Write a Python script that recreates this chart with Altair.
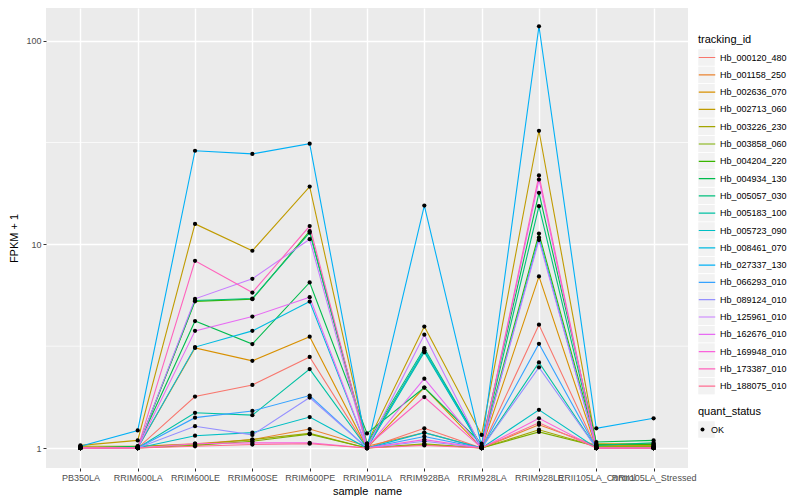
import altair as alt
import pandas as pd

samples = ["PB350LA", "RRIM600LA", "RRIM600LE", "RRIM600SE", "RRIM600PE", "RRIM901LA",
           "RRIM928BA", "RRIM928LA", "RRIM928LE", "RRII105LA_Control", "RRII105LA_Stressed"]

genes = ["Hb_000120_480", "Hb_001158_250", "Hb_002636_070", "Hb_002713_060", "Hb_003226_230",
         "Hb_003858_060", "Hb_004204_220", "Hb_004934_130", "Hb_005057_030", "Hb_005183_100",
         "Hb_005723_090", "Hb_008461_070", "Hb_027337_130", "Hb_066293_010", "Hb_089124_010",
         "Hb_125961_010", "Hb_162676_010", "Hb_169948_010", "Hb_173387_010", "Hb_188075_010"]

palette = ["#F8766D", "#EA8331", "#D89000", "#C09B00", "#A3A500", "#7CAE00", "#39B600",
           "#00BB4E", "#00BF7D", "#00C1A3", "#00BFC4", "#00BAE0", "#00B0F6", "#35A2FF",
           "#9590FF", "#C77CFF", "#E76BF3", "#FA62DB", "#FF62BC", "#FF6C91"]

# FPKM + 1 per sample (order of `samples`)
hb_000120_480 = [1.01, 1.00, 1.79, 2.04, 2.80, 1.00, 1.25, 1.00, 4.03, 1.00, 1.00]
hb_001158_250 = [1.00, 1.02, 1.05, 1.10, 1.24, 1.02, 1.19, 1.00, 1.30, 1.03, 1.03]
hb_002636_070 = [1.00, 1.00, 3.10, 2.68, 3.52, 1.00, 1.98, 1.00, 6.96, 1.00, 1.00]
hb_002713_060 = [1.03, 1.09, 12.6, 9.30, 19.2, 1.05, 3.95, 1.16, 36.1, 1.05, 1.05]
hb_003226_230 = [1.02, 1.02, 1.04, 1.10, 1.18, 1.00, 1.05, 1.00, 1.23, 1.02, 1.02]
hb_003858_060 = [1.00, 1.00, 1.03, 1.08, 1.17, 1.00, 1.04, 1.00, 1.20, 1.02, 1.02]
hb_004204_220 = [1.00, 1.00, 5.25, 5.38, 11.6, 1.02, 3.00, 1.02, 11.3, 1.04, 1.04]
hb_004934_130 = [1.00, 1.02, 4.20, 3.24, 6.50, 1.18, 1.98, 1.05, 17.9, 1.07, 1.09]
hb_005057_030 = [1.00, 1.00, 5.30, 5.42, 11.4, 1.05, 3.09, 1.02, 15.4, 1.03, 1.06]
hb_005183_100 = [1.00, 1.00, 1.49, 1.45, 2.44, 1.00, 2.95, 1.00, 2.63, 1.00, 1.00]
hb_005723_090 = [1.00, 1.00, 1.15, 1.19, 1.42, 1.00, 1.19, 1.00, 1.54, 1.00, 1.00]
hb_008461_070 = [1.00, 1.00, 3.13, 3.76, 5.24, 1.00, 3.02, 1.00, 10.8, 1.00, 1.00]
hb_027337_130 = [1.02, 1.22, 28.8, 27.8, 31.2, 1.00, 15.5, 1.02, 117.6, 1.25, 1.40]
hb_066293_010 = [1.00, 1.00, 1.41, 1.52, 1.81, 1.00, 1.14, 1.00, 3.25, 1.00, 1.00]
hb_089124_010 = [1.00, 1.00, 1.28, 1.16, 1.77, 1.00, 1.08, 1.00, 2.49, 1.00, 1.00]
hb_125961_010 = [1.00, 1.00, 5.40, 6.77, 10.6, 1.00, 3.60, 1.00, 10.5, 1.00, 1.00]
hb_162676_010 = [1.00, 1.00, 3.76, 4.42, 5.50, 1.00, 2.19, 1.00, 20.8, 1.00, 1.00]
hb_169948_010 = [1.00, 1.00, 1.05, 1.06, 1.06, 1.00, 1.10, 1.00, 1.40, 1.00, 1.00]
hb_173387_010 = [1.00, 1.00, 8.30, 5.80, 12.3, 1.02, 1.78, 1.00, 21.8, 1.00, 1.00]
hb_188075_010 = [1.00, 1.00, 1.02, 1.04, 1.05, 1.00, 1.03, 1.00, 1.33, 1.00, 1.00]

series = [hb_000120_480, hb_001158_250, hb_002636_070, hb_002713_060, hb_003226_230,
          hb_003858_060, hb_004204_220, hb_004934_130, hb_005057_030, hb_005183_100,
          hb_005723_090, hb_008461_070, hb_027337_130, hb_066293_010, hb_089124_010,
          hb_125961_010, hb_162676_010, hb_169948_010, hb_173387_010, hb_188075_010]

minor_breaks = [10 ** 0.5, 10 ** 1.5]
y_breaks = [1, 10, 100]

rows = []
for g, vals in zip(genes, series):
    for i, (s, v) in enumerate(zip(samples, vals)):
        rows.append({"tracking_id": g, "key_id": g, "sample_name": s, "idx": i,
                     "fpkm1": v, "quant_status": "OK", "quant_key": "OK"})
df = pd.DataFrame(rows)
minor_df = pd.DataFrame({"fpkm1": minor_breaks})

FONT = "Liberation Sans"
KEY_BG = "#F2F2F2"
LX = 652
LY = 26
QY = 398
ENTRY_H = 17
ROW_PAD = 0.3
TITLE_PAD = 4

yscale = alt.Scale(type="log", domain=[0.798, 144.6], nice=False)
yaxis = alt.Axis(title="FPKM + 1", values=y_breaks, format="~g", grid=True, gridColor="white",
                 gridWidth=1.4, tickColor="#333333", tickSize=3, labelColor="#4D4D4D",
                 labelFontSize=9, titleFontSize=11, titleFontWeight="normal", domain=False,
                 labelPadding=2, titlePadding=6, titleColor="black")
xenc = alt.X("sample_name:N", sort=samples, scale=alt.Scale(type="point", padding=0.6),
             axis=alt.Axis(title="sample_name", labelAngle=0, labelOverlap=False, grid=True,
                           gridColor="white", gridWidth=1.4, tickColor="#333333", tickSize=3,
                           labelColor="#4D4D4D", labelFontSize=9, titleFontSize=11,
                           titleFontWeight="normal", domain=False, labelPadding=2,
                           titlePadding=3, titleColor="black", labelLimit=0))
yenc = alt.Y("fpkm1:Q", scale=yscale, axis=yaxis)

minor = alt.Chart(minor_df).mark_rule(color="white", strokeWidth=0.7).encode(y=yenc)

# grey legend key backgrounds (ggplot style), drawn as legends under the real legends
blank_common = dict(titleColor="rgba(0,0,0,0)", labelExpr="' '", orient="none", legendX=LX,
                    symbolType="square", symbolSize=272, symbolStrokeWidth=0, symbolOpacity=1,
                    clipHeight=ENTRY_H, rowPadding=ROW_PAD, titlePadding=TITLE_PAD, zindex=0)

keys = alt.Chart(df).mark_square(size=0, opacity=0).encode(
    x=xenc, y=yenc,
    fill=alt.Fill("key_id:N", scale=alt.Scale(range=[KEY_BG] * len(genes)),
                  legend=alt.Legend(title=" ", legendY=LY, **blank_common)),
)

qkeys = alt.Chart(df).mark_square(size=0, color=KEY_BG).encode(
    x=xenc, y=yenc,
    opacity=alt.Opacity("quant_key:N", scale=alt.Scale(range=[1]),
                        legend=alt.Legend(title=" ", legendY=QY, symbolFillColor=KEY_BG,
                                          **blank_common)),
)

lines = alt.Chart(df).mark_line(strokeWidth=1.1).encode(
    x=xenc, y=yenc,
    color=alt.Color("tracking_id:N", scale=alt.Scale(domain=genes, range=palette),
                    legend=alt.Legend(title="tracking_id", orient="none", legendX=LX, legendY=LY,
                                      symbolType="stroke", symbolSize=272, symbolStrokeWidth=1.2,
                                      clipHeight=ENTRY_H, rowPadding=ROW_PAD,
                                      titlePadding=TITLE_PAD, zindex=2)),
    order="idx:Q",
)

points = alt.Chart(df).mark_point(filled=True, color="black", size=18, opacity=1).encode(
    x=xenc, y=yenc,
    shape=alt.Shape("quant_status:N", scale=alt.Scale(range=["circle"]),
                    legend=alt.Legend(title="quant_status", orient="none", legendX=LX, legendY=QY,
                                      symbolSize=16, symbolFillColor="black", clipHeight=ENTRY_H,
                                      rowPadding=ROW_PAD, titlePadding=TITLE_PAD, zindex=2)),
)

chart = alt.layer(minor, keys, qkeys, lines, points).properties(
    width=642, height=460, padding={"left": 0, "top": 0, "right": 0, "bottom": 0}
).configure(font=FONT).configure_view(
    fill="#EBEBEB", stroke=None
).configure_legend(
    labelFontSize=9, titleFontSize=11, titleFontWeight="normal", labelColor="black",
    titleColor="black"
)

chart.save("out.html", embed_options={"renderer": "svg", "actions": False})
